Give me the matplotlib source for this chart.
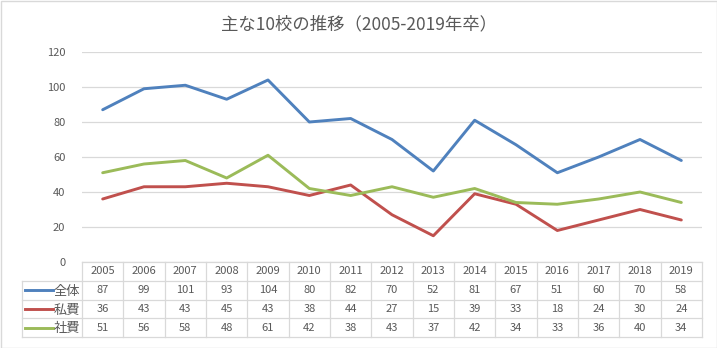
import matplotlib
matplotlib.use('Agg')
import matplotlib.pyplot as plt
from matplotlib.patches import Rectangle

plt.rcParams['font.family'] = ['Noto Sans CJK JP', 'DejaVu Sans']

years = ['2005', '2006', '2007', '2008', '2009', '2010', '2011', '2012',
         '2013', '2014', '2015', '2016', '2017', '2018', '2019']
total = [87, 99, 101, 93, 104, 80, 82, 70, 52, 81, 67, 51, 60, 70, 58]
private = [36, 43, 43, 45, 43, 38, 44, 27, 15, 39, 33, 18, 24, 30, 24]
company = [51, 56, 58, 48, 61, 42, 38, 43, 37, 42, 34, 33, 36, 40, 34]
series_names = ['全体', '私費', '社費']
colors = ['#4F81BD', '#C0504D', '#9BBB59']
title = '主な10校の推移（2005-2019年卒）'

W, H = 717, 348
fig = plt.figure(figsize=(W / 100, H / 100), dpi=100)
fig.patches.append(Rectangle((0.5 / W, 0.5 / H), 1 - 1.0 / W, 1 - 1.0 / H,
                             transform=fig.transFigure, fill=False,
                             edgecolor='#D9D9D9', lw=1))

grid_c = '#D9D9D9'
text_c = '#595959'

# plot area in pixels
x0, x1 = 82, 702
y_top, y_bot = 52, 262
ax = fig.add_axes([x0 / W, 1 - y_bot / H, (x1 - x0) / W, (y_bot - y_top) / H])
n = len(years)
xs = list(range(n))
for vals, c in zip([total, private, company], colors):
    ax.plot(xs, vals, color=c, lw=2.1, solid_capstyle='round')
ax.set_xlim(-0.5, n - 0.5)
ax.set_ylim(0, 120)
ax.set_yticks(range(0, 121, 20))
ax.set_xticks([])
ax.grid(axis='y', color=grid_c, lw=0.9)
ax.set_axisbelow(True)
for s in ax.spines.values():
    s.set_visible(False)
ax.tick_params(axis='y', length=0, labelsize=8, labelcolor=text_c, pad=12)
fig.text(0.5, 1 - 24 / H, title, ha='center', va='center', fontsize=12.5, color=text_c)

# data table
tx0, ty1 = 22, 337
unit = (x1 - x0) / n
tax = fig.add_axes([tx0 / W, 1 - ty1 / H, (x1 - tx0) / W, (ty1 - y_bot) / H])
left_lim = -0.5 - (x0 - tx0) / unit
tax.set_xlim(left_lim, n - 0.5)
tax.set_ylim(4, 0)
tax.axis('off')
lk = dict(color=grid_c, lw=0.9, clip_on=False)
tax.plot([-0.5, n - 0.5], [0, 0], **lk)
for r in range(1, 5):
    tax.plot([left_lim, n - 0.5], [r, r], **lk)
for i in range(n + 1):
    tax.plot([i - 0.5, i - 0.5], [0, 4], **lk)
tax.plot([left_lim, left_lim], [1, 4], **lk)
for i, y in enumerate(years):
    tax.text(i, 0.5, y, ha='center', va='center', fontsize=8, color=text_c)
for r, (vals, name, c) in enumerate(zip([total, private, company], series_names, colors)):
    row = r + 1.5
    for i, v in enumerate(vals):
        tax.text(i, row, str(v), ha='center', va='center', fontsize=8, color=text_c)
    tax.plot([left_lim + 0.08, left_lim + 0.74], [row, row], color=c, lw=2.1, clip_on=False)
    tax.text(left_lim + 0.76, row + 0.06, name, ha='left', va='center', fontsize=9.5, color=text_c)

fig.savefig('out.png', dpi=100)
